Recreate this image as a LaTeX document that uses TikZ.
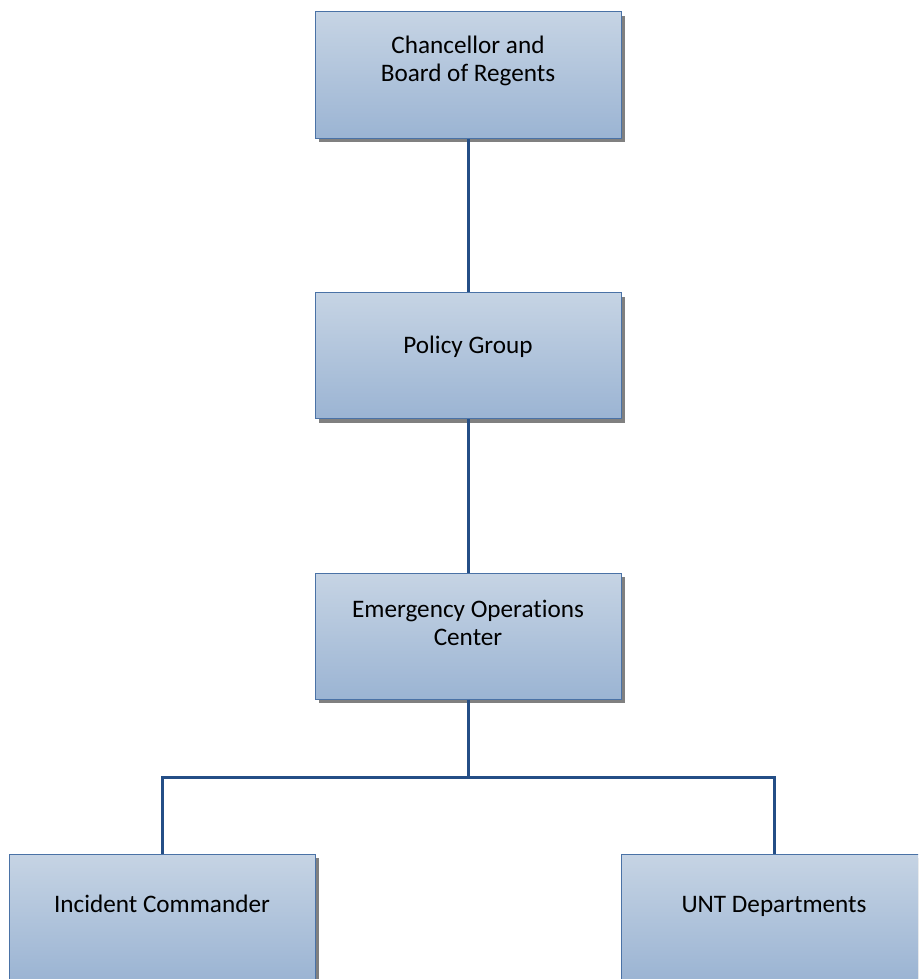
\documentclass[tikz,border=0pt]{standalone}
\usepackage{fontspec}
\setmainfont{Carlito}[Ligatures=NoCommon]
\usetikzlibrary{shadows}
\definecolor{boxtop}{HTML}{C6D4E4}
\definecolor{boxbot}{HTML}{9BB4D3}
\definecolor{boxline}{HTML}{4A72A6}
\definecolor{conn}{HTML}{244E86}
\tikzset{
  orgbox/.style={rectangle, draw=boxline, line width=1pt, top color=boxtop, bottom color=boxbot,
    minimum width=306pt, minimum height=126pt, inner sep=0pt,
    drop shadow={shadow xshift=4pt, shadow yshift=-4pt, fill=black!50, opacity=1}},
  orgtext/.style={font=\fontsize{25.2}{28}\selectfont, align=center, inner sep=0pt,
    text height=16pt, text depth=0pt},
  link/.style={draw=conn, line width=3pt}
}
\begin{document}
\begin{tikzpicture}[x=1pt,y=-1pt]
\useasboundingbox (0,0) rectangle (918,979);
\begin{scope}
\clip (0,0) rectangle (918,979);
\node[orgbox] (b1) at (468,75) {};
\node[orgbox] (b2) at (468,355.5) {};
\node[orgbox] (b3) at (468,636) {};
\node[orgbox] (b4) at (162,917) {};
\node[orgbox] (b5) at (774,917) {};
\node[orgtext] (t1) at (468,74) {Chancellor and\\Board of Regents};
\node[orgtext] (t2) at (468,345) {Policy Group};
\node[orgtext] (t3) at (468,637) {Emergency Operations\\Center};
\node[orgtext] (t4) at (162,904) {Incident Commander};
\node[orgtext] (t5) at (774,904) {UNT Departments};
\coordinate (j) at (468,777);
\draw[link] (b1.south) -- (b2.north);
\draw[link] (b2.south) -- (b3.north);
\draw[link] (b3.south) -- (j);
\draw[link] (b4.north) |- (j) -| (b5.north);
\end{scope}
\end{tikzpicture}
\end{document}
